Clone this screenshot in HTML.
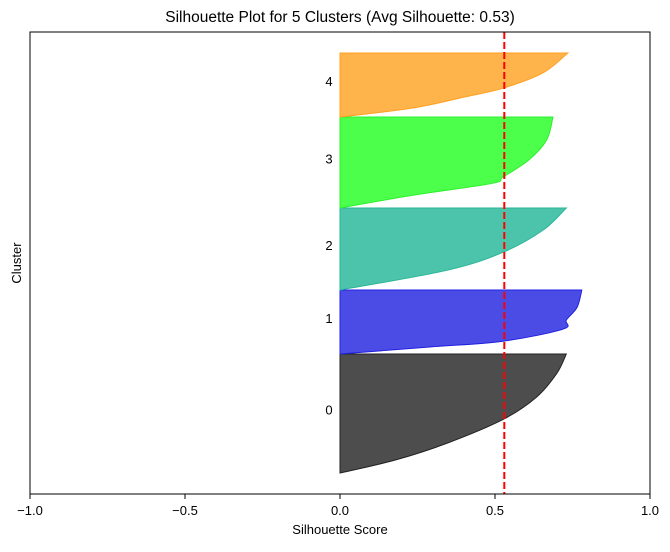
<!DOCTYPE html>
<html><head><meta charset="utf-8">
<style>
body{margin:0;background:#fff;}
svg text{font-family:"Liberation Sans","DejaVu Sans",sans-serif;fill:#000;}
</style></head>
<body>
<svg id="chart" width="670" height="547" viewBox="0 0 670 547" xmlns="http://www.w3.org/2000/svg">
<text x="340" y="22" font-size="15.5" text-anchor="middle">Silhouette Plot for 5 Clusters (Avg Silhouette: 0.53)</text>
<g id="plot"></g>
<rect x="30" y="32" width="620" height="462" fill="none" stroke="#000" stroke-width="1"/>
<g id="xticks"></g>
<text x="340" y="534" font-size="13" text-anchor="middle">Silhouette Score</text>
<text transform="translate(21,263) rotate(-90)" font-size="13" text-anchor="middle">Cluster</text>
</svg>
<script>
const clusterLabels = ["0","1","2","3","4"];
const clusterSizes = [119, 64, 82, 91, 64];
const clusterColors = ["#4d4d4d","#4b4be6","#4cc4ab","#4bff4b","#ffb34b"];
const clusterEdges = ["#222222","#2020e0","#2ab597","#2cf02c","#ffa020"];
// sorted silhouette profile per cluster: fraction of cluster (bottom->top) and value
const profFrac0 = [0, 0.11, 0.25, 0.45, 0.64, 0.84, 1];
const profVal0  = [0, 0.18, 0.345, 0.526, 0.635, 0.70, 0.73];
const profFrac1 = [0, 0.11, 0.2, 0.39, 0.53, 0.73, 1];
const profVal1  = [0, 0.29, 0.526, 0.72, 0.73, 0.765, 0.78];
const profFrac2 = [0, 0.24, 0.46, 0.73, 1];
const profVal2  = [0, 0.345, 0.526, 0.655, 0.73];
const profFrac3 = [0, 0.14, 0.27, 0.34, 0.53, 0.75, 1];
const profVal3  = [0, 0.235, 0.49, 0.526, 0.61, 0.667, 0.687];
const profFrac4 = [0, 0.14, 0.31, 0.45, 0.69, 1];
const profVal4  = [0, 0.235, 0.40, 0.526, 0.655, 0.735];
const avgSilhouette = 0.53;
const xTickValues = [-1.0, -0.5, 0.0, 0.5, 1.0];
const xTickLabels = ["\u22121.0","\u22120.5","0.0","0.5","1.0"];
const yStart = 21, yMax = 462;

const NS = "http://www.w3.org/2000/svg";
const xS = v => 30 + (v + 1) / 2 * 620;
const yS = v => 494 - v / yMax * 462;
const plot = document.getElementById("plot");
const fracs = [profFrac0, profFrac1, profFrac2, profFrac3, profFrac4];
const vals = [profVal0, profVal1, profVal2, profVal3, profVal4];
function smoothPath(pts) {
  let d = "M" + pts[0][0] + "," + pts[0][1];
  for (let i = 0; i < pts.length - 1; i++) {
    const p0 = pts[Math.max(0, i - 1)], p1 = pts[i], p2 = pts[i + 1], p3 = pts[Math.min(pts.length - 1, i + 2)];
    const c1 = [p1[0] + (p2[0] - p0[0]) / 6, p1[1] + (p2[1] - p0[1]) / 6];
    const c2 = [p2[0] - (p3[0] - p1[0]) / 6, p2[1] - (p3[1] - p1[1]) / 6];
    d += " C" + c1.join(",") + " " + c2.join(",") + " " + p2.join(",");
  }
  return d;
}
let yLower = yStart;
for (let i = 0; i < clusterSizes.length; i++) {
  const size = clusterSizes[i];
  let pts = [];
  for (let j = 0; j < fracs[i].length; j++) {
    pts.push([xS(vals[i][j]), yS(yLower + fracs[i][j] * size)]);
  }
  const d = smoothPath(pts) + " L" + xS(0) + "," + yS(yLower + size) + " L" + xS(0) + "," + yS(yLower) + " Z";
  const p = document.createElementNS(NS, "path");
  
  
  p.setAttribute("d", d);
  p.setAttribute("fill", clusterColors[i]);
  p.setAttribute("stroke", clusterEdges[i]);
  p.setAttribute("stroke-width", "1");
  plot.appendChild(p);
  const t = document.createElementNS(NS, "text");
  
  
  t.setAttribute("x", 329);
  t.setAttribute("y", yS(yLower + size / 2) + 1);
  t.setAttribute("font-size", "13");
  t.setAttribute("text-anchor", "middle");
  t.textContent = clusterLabels[i];
  plot.appendChild(t);
  yLower += size;
}
const avg = document.createElementNS(NS, "line");


avg.setAttribute("x1", xS(avgSilhouette)); avg.setAttribute("x2", xS(avgSilhouette));
avg.setAttribute("y1", 32); avg.setAttribute("y2", 494);
avg.setAttribute("stroke", "#ff0000"); avg.setAttribute("stroke-width", "2");
avg.setAttribute("stroke-dasharray", "7,3");
plot.appendChild(avg);
const xt = document.getElementById("xticks");
for (let i = 0; i < xTickValues.length; i++) {
  const x = xS(xTickValues[i]);
  const l = document.createElementNS(NS, "line");
  
  
  l.setAttribute("x1", x); l.setAttribute("x2", x);
  l.setAttribute("y1", 494); l.setAttribute("y2", 499);
  l.setAttribute("stroke", "#000");
  xt.appendChild(l);
  const t = document.createElementNS(NS, "text");
  
  
  t.setAttribute("x", x); t.setAttribute("y", 515);
  t.setAttribute("font-size", "13"); t.setAttribute("text-anchor", "middle");
  t.textContent = xTickLabels[i];
  xt.appendChild(t);
}
</script>
</body></html>
